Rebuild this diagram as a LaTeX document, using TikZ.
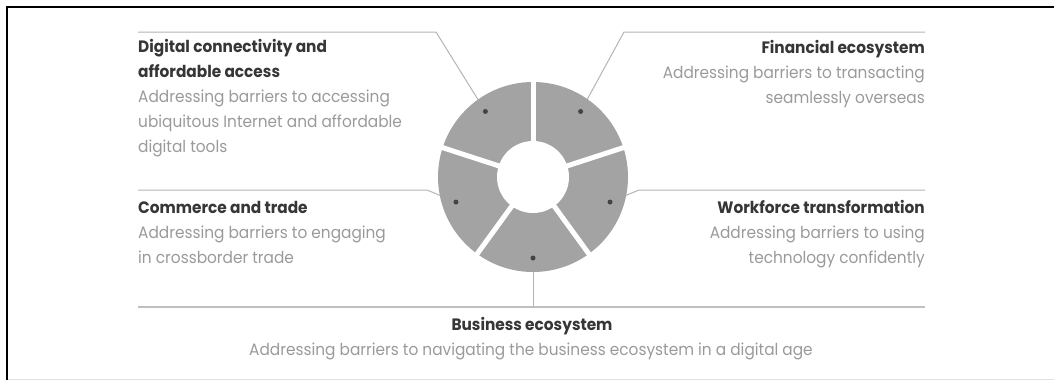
\documentclass[tikz,border=0pt]{standalone}
\usepackage{fontspec}
\setmainfont{Poppins}[FakeStretch=0.93]
\usetikzlibrary{calc}
\definecolor{ringfill}{HTML}{A3A3A3}
\definecolor{leadgrey}{HTML}{B4B4B4}
\definecolor{titlegrey}{HTML}{363636}
\definecolor{descgrey}{HTML}{9A9A9A}
\definecolor{dotgrey}{HTML}{444444}
\begin{document}
\begin{tikzpicture}[x=1pt,y=-1pt,
  heading/.style={font=\bfseries\fontsize{16.5}{25}\selectfont, text=titlegrey, inner sep=0pt},
  desc/.style={font=\fontsize{16.5}{25}\selectfont, text=descgrey, inner sep=0pt},
  leader/.style={draw=leadgrey, line width=1pt},
  baseline rule/.style={draw=leadgrey!85, line width=1.8pt},
  hub/.style={circle, fill=dotgrey, inner sep=0pt, minimum size=5pt}]
\useasboundingbox (0,0) rectangle (1054,380);

% frame
\draw[black, line width=2pt] (1054,7) -- (7,7) -- (7,380);
\draw[gray!25, line width=0.8pt] (8,379) -- (1054,379);

% ring centre and the five anchor points on the segments
\coordinate (c) at (533,177);
\coordinate (pTL) at ([shift={(-126:81)}]c);
\coordinate (pTR) at ([shift={(-54:81)}]c);
\coordinate (pR)  at ([shift={(18:81)}]c);
\coordinate (pB)  at ([shift={(90:81)}]c);
\coordinate (pL)  at ([shift={(162:81)}]c);

% leader bends and ends
\coordinate (kTL) at (436,32);  \coordinate (eTL) at (138,32);
\coordinate (kTR) at (624,32);  \coordinate (eTR) at (925,32);
\coordinate (kL)  at (427,190); \coordinate (eL)  at (138,190);
\coordinate (kR)  at (639,190); \coordinate (eR)  at (925,190);
\coordinate (bL)  at (138,307); \coordinate (bR)  at (925,307);
\coordinate (kB)  at (533,307);

% leaders
\draw[leader] (pTL) -- (kTL) -- (eTL);
\draw[leader] (pTR) -- (kTR) -- (eTR);
\draw[leader] (pL) -- (kL) -- (eL);
\draw[leader] (pR) -- (kR) -- (eR);
\draw[leader] (pB) -- (kB);
\draw[baseline rule] (bL) -- (bR);

% ring of five segments
\fill[ringfill] (c) circle (95pt);
\foreach \a in {-90,-18,54,126,198}
  \draw[white, line width=5pt] (c) -- ([shift={(\a:100)}]c);
\fill[white] (c) circle (36pt);

% anchor dots
\node[hub] (mTL) at (pTL) {};
\node[hub] (mTR) at (pTR) {};
\node[hub] (mR)  at (pR)  {};
\node[hub] (mB)  at (pB)  {};
\node[hub] (mL)  at (pL)  {};

% labels (base anchor sits on the last line of each block)
\node[heading, anchor=base west, align=left] (hTL) at (138,77)
  {Digital connectivity and\\affordable access};
\node[desc, anchor=base west, align=left] (dTL) at (138,152)
  {Addressing barriers to accessing\\ubiquitous Internet and affordable\\digital tools};

\node[heading, anchor=base east, align=right] (hTR) at (925,53) {Financial ecosystem};
\node[desc, anchor=base east, align=right] (dTR) at (925,103)
  {Addressing barriers to transacting\\seamlessly overseas};

\node[heading, anchor=base west, align=left] (hL) at (138,213) {Commerce and trade};
\node[desc, anchor=base west, align=left] (dL) at (138,263)
  {Addressing barriers to engaging\\in crossborder trade};

\node[heading, anchor=base east, align=right] (hR) at (925,213) {Workforce transformation};
\node[desc, anchor=base east, align=right] (dR) at (925,263)
  {Addressing barriers to using\\technology confidently};

\node[heading, anchor=base] (hB) at (532,330) {Business ecosystem};
\node[desc, anchor=base] (dB) at (531,355)
  {Addressing barriers to navigating the business ecosystem in a digital age};
\end{tikzpicture}
\end{document}
